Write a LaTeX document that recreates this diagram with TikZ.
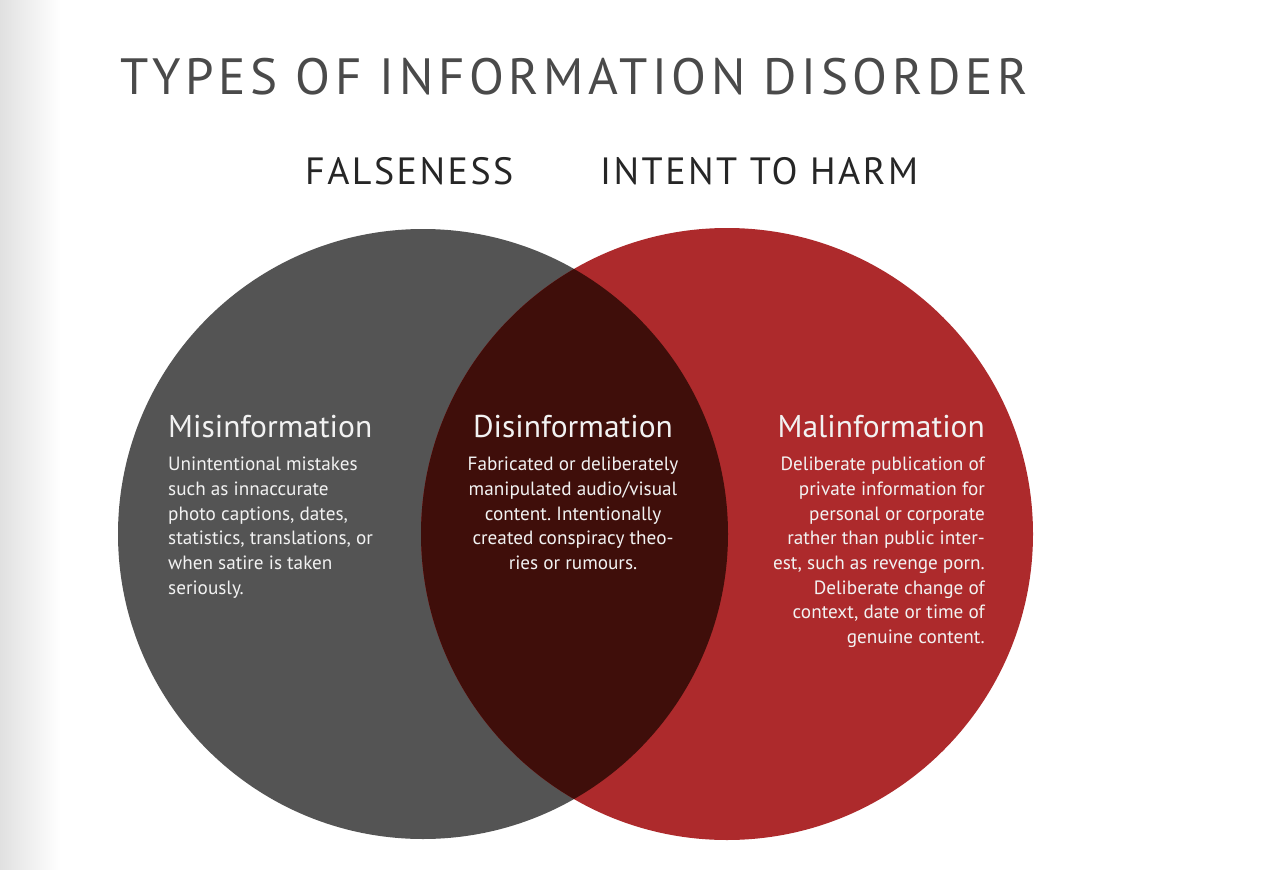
\documentclass[tikz,border=0pt]{standalone}
\usepackage{fontspec}
\setmainfont{PT Sans}
\newfontfamily\titlefont[LetterSpace=9]{PT Sans}
\newfontfamily\subfont[LetterSpace=6.5]{PT Sans}
\definecolor{graycirc}{HTML}{545454}
\definecolor{redcirc}{HTML}{AD2A2C}
\definecolor{darkcirc}{HTML}{3F0E0A}
\definecolor{titlegray}{HTML}{4A4A4A}
\definecolor{txtwhite}{HTML}{F2F2F2}
\tikzset{
  heading/.style={inner sep=0pt, text=txtwhite, font=\fontsize{31.5}{34}\selectfont},
  body/.style={inner sep=0pt, text=txtwhite, font=\frenchspacing\fontsize{19.2}{24.7}\selectfont},
}
\begin{document}
\begin{tikzpicture}[x=1pt,y=-1pt]
\useasboundingbox (0,0) rectangle (1278,870);
\fill[white] (0,0) rectangle (1278,870);
\shade[left color=black!12, right color=white] (0,0) rectangle (60,870);
% circles
\fill[graycirc] (423,534) circle (305);
\fill[redcirc] (727,534) circle (306);
\begin{scope}
  \clip (423,534) circle (305);
  \fill[darkcirc] (727,534) circle (306);
\end{scope}
% titles
\node[anchor=base west, inner sep=0pt, text=titlegray, font=\titlefont\fontsize{51}{60}\selectfont] (title) at (120,94) {TYPES OF INFORMATION DISORDER};
\node[anchor=base west, inner sep=0pt, text=black!85, font=\subfont\fontsize{38}{44}\selectfont] (false) at (305,184) {FALSENESS};
\node[anchor=base west, inner sep=0pt, text=black!85, font=\subfont\fontsize{38}{44}\selectfont] (harm) at (600,184) {INTENT TO HARM};
% headings
\node[heading, anchor=base west] (mis) at (168,437) {Misinformation};
\node[heading, anchor=base] (dis) at (573,437) {Disinformation};
\node[heading, anchor=base east] (mal) at (985,437) {Malinformation};
% bodies
\node[body, anchor=north west, align=left] (misb) at (168,457) {Unintentional mistakes\\such as innaccurate\\photo captions, dates,\\statistics, translations, or\\when satire is taken\\seriously.};
\node[body, anchor=north, align=center] (disb) at (573,457) {Fabricated or deliberately\\manipulated audio/visual\\content. Intentionally\\created conspiracy theo-\\ries or rumours.};
\node[body, anchor=north east, align=right] (malb) at (985,457) {Deliberate publication of\\private information for\\personal or corporate\\rather than public inter-\\est, such as revenge porn.\\Deliberate change of\\context, date or time of\\genuine content.};
\end{tikzpicture}
\end{document}
